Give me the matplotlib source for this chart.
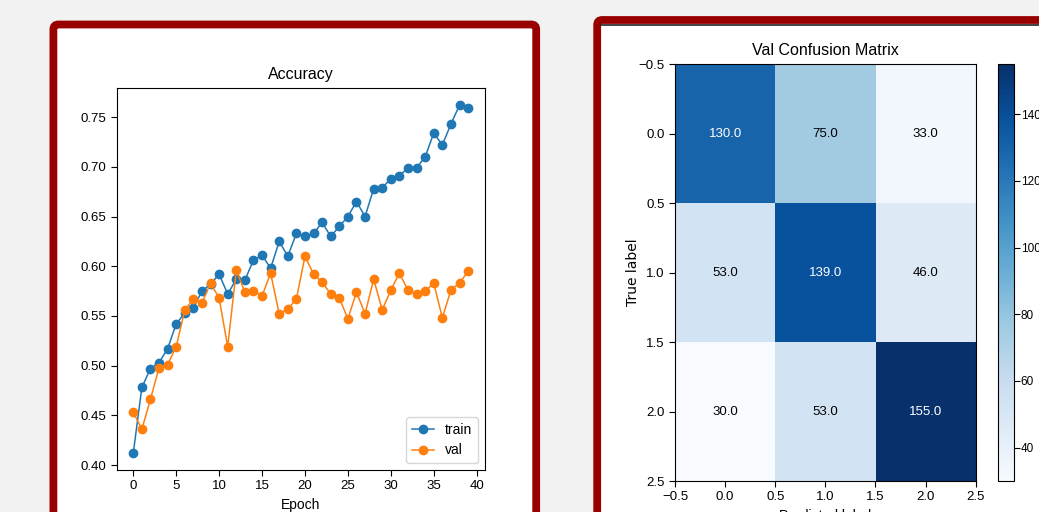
import numpy as np
import matplotlib
matplotlib.use("Agg")
import matplotlib.pyplot as plt
from matplotlib.patches import FancyBboxPatch

plt.rcParams['font.family'] = ['Liberation Sans', 'DejaVu Sans']

# training history
epochs = list(range(40))
train_acc = [0.412, 0.478, 0.497, 0.503, 0.517, 0.542, 0.553, 0.558, 0.575, 0.582,
             0.592, 0.572, 0.587, 0.586, 0.606, 0.611, 0.598, 0.625, 0.610, 0.633,
             0.630, 0.633, 0.644, 0.630, 0.640, 0.650, 0.665, 0.650, 0.678, 0.679,
             0.688, 0.691, 0.699, 0.699, 0.710, 0.734, 0.722, 0.743, 0.762, 0.759]
val_acc = [0.453, 0.436, 0.466, 0.498, 0.501, 0.519, 0.556, 0.567, 0.563, 0.583,
           0.568, 0.519, 0.596, 0.574, 0.575, 0.570, 0.593, 0.552, 0.557, 0.567,
           0.610, 0.592, 0.584, 0.572, 0.568, 0.547, 0.574, 0.552, 0.587, 0.556,
           0.576, 0.593, 0.576, 0.572, 0.575, 0.583, 0.548, 0.576, 0.583, 0.595]

# validation confusion matrix
conf_mat = [[130, 75, 33],
            [53, 139, 46],
            [30, 53, 155]]
cbar_ticks = [40, 60, 80, 100, 120, 140]

W, H = 1039, 512
fig = plt.figure(figsize=(W / 100, H / 100), dpi=100)
fig.patch.set_facecolor('#f2f2f2')


def px_axes(x0, y0, x1, y1):
    return fig.add_axes([x0 / W, 1 - y1 / H, (x1 - x0) / W, (y1 - y0) / H])


def panel(x0, y0, x1, y1):
    # red framed white card, coordinates in pixels from top-left
    p = FancyBboxPatch((x0 / 100, (H - y1) / 100), (x1 - x0) / 100, (y1 - y0) / 100,
                       boxstyle="round,pad=0,rounding_size=0.05",
                       transform=fig.dpi_scale_trans, facecolor='white',
                       edgecolor='#990000', linewidth=5.6, zorder=0)
    fig.add_artist(p)


panel(53.4, 24.5, 536.2, 560)
panel(597.2, 20, 1100, 560)
fig.add_artist(plt.Line2D([601 / W, 1], [1 - 25 / H, 1 - 25 / H], color='#222222',
                          lw=1.2, transform=fig.transFigure))

# accuracy curves
ax = px_axes(116.7, 88.3, 485, 470)
ax.plot(epochs, train_acc, 'o-', color='#1f77b4', lw=1.1, ms=6, label='train')
ax.plot(epochs, val_acc, 'o-', color='#ff7f0e', lw=1.1, ms=6, label='val')
ax.set_xlim(-1.93, 40.97)
ax.set_ylim(0.395, 0.779)
ax.set_xticks(range(0, 41, 5))
ax.set_yticks(np.arange(0.40, 0.76, 0.05))
ax.tick_params(labelsize=9.5, length=4)
ax.set_title('Accuracy', fontsize=11.5, pad=7)
ax.set_xlabel('Epoch', fontsize=10)
ax.xaxis.set_label_coords(0.5, -0.073)
ax.legend(loc='lower right', fontsize=10, handlelength=1.6)

# confusion matrix
cm = np.array(conf_mat)
ax2 = px_axes(675, 64.3, 975.7, 481)
im = ax2.imshow(cm, cmap='Blues', aspect='auto', vmin=cm.min(), vmax=cm.max())
thresh = cm.max() / 2
for i in range(cm.shape[0]):
    for j in range(cm.shape[1]):
        ax2.text(j, i, '%.1f' % cm[i, j], ha='center', va='center', fontsize=9.5,
                 color='white' if cm[i, j] > thresh else 'black')
ax2.set_xticks(np.arange(-0.5, 2.6, 0.5))
ax2.set_yticks(np.arange(-0.5, 2.6, 0.5))
ax2.tick_params(labelsize=9.5, length=4)
ax2.set_title('Val Confusion Matrix', fontsize=11.5, pad=7)
ax2.set_ylabel('True label', fontsize=10, family=['DejaVu Sans'])
ax2.yaxis.set_label_coords(-0.118, 0.5)
ax2.set_xlabel('Predicted label', fontsize=10)
ax2.xaxis.set_label_coords(0.5, -0.068)

cax = px_axes(998.3, 64.3, 1014, 481)
cb = fig.colorbar(im, cax=cax, ticks=cbar_ticks)
cb.ax.tick_params(labelsize=8.5, length=4, pad=0.8)

fig.savefig('out.png', dpi=100, facecolor=fig.get_facecolor())
